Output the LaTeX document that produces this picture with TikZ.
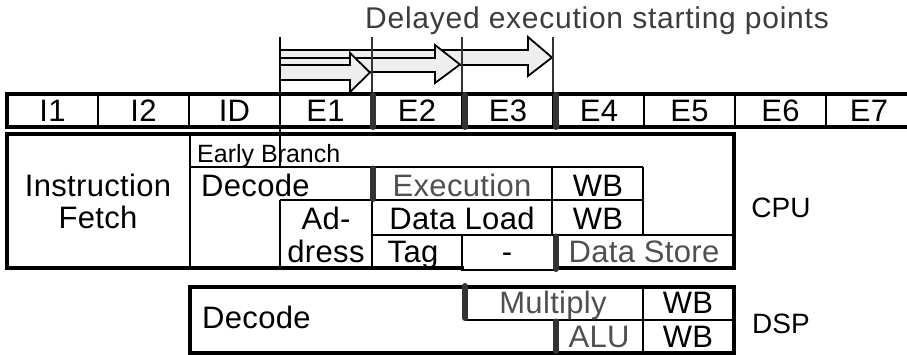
\documentclass[tikz,border=0pt]{standalone}
\usepackage{fontspec}
\setmainfont{Liberation Sans}
\definecolor{barcol}{HTML}{333333}
\definecolor{arrowfill}{HTML}{EEEEEE}
\definecolor{dimtext}{HTML}{505050}
\definecolor{titlecol}{HTML}{3C3C3C}
\begin{document}
\begin{tikzpicture}[x=1pt,y=-1pt,
  thickln/.style={line width=4pt, line cap=rect},
  thinln/.style={line width=2pt},
  stagebar/.style={line width=6pt, draw=barcol, line cap=round},
  guideln/.style={line width=2.8pt, draw=barcol},
  blockarrow/.style={draw=black, fill=arrowfill, line width=1.8pt, line join=miter},
  lbl/.style={font=\fontsize{31}{33}\selectfont\addfontfeatures{LetterSpace=1}, anchor=base, inner sep=0pt},
  small/.style={font=\fontsize{25}{27}\selectfont, anchor=base west, inner sep=0pt},
  side/.style={font=\fontsize{28}{30}\selectfont, anchor=base, inner sep=0pt},
  dim/.style={text=dimtext},
]
\useasboundingbox (0,0) rectangle (907,355);

% title
\node[font=\fontsize{30}{32}\selectfont\addfontfeatures{LetterSpace=2.5}, text=titlecol,
      anchor=base, inner sep=0pt] (title) at (597,29) {Delayed execution starting points};

% block arrows for the delayed starts (longest first)
\draw[blockarrow] (280,50) -- (528,50) -- (528,37) -- (552,57.5) -- (528,76) -- (528,65) -- (280,65) -- cycle;
\draw[blockarrow] (280,58) -- (435,58) -- (435,45) -- (460,64.5) -- (435,83) -- (435,72) -- (280,72) -- cycle;
\draw[blockarrow] (280,65) -- (350,65) -- (350,53) -- (370,72.5) -- (350,92) -- (350,80) -- (280,80) -- cycle;

% guide lines above the stage row
\draw[thinln] (280,37) -- (280,167);
\draw[guideln] (372,37) -- (372,94);
\draw[guideln] (462,37) -- (462,94);
\draw[guideln] (553,37) -- (553,94);

% pipeline stage row
\draw[thickln] (920,94) -- (7,94) -- (7,127) -- (920,127);
\foreach \x in {98,189,280,371,462,553,644,735,826}
  \draw[thinln] (\x,94) -- (\x,127);
\node[lbl] (i1) at (52.5,122) {I1};
\node[lbl] (i2) at (143.5,122) {I2};
\node[lbl] (id) at (234.5,122) {ID};
\node[lbl] (e1) at (325.5,122) {E1};
\node[lbl] (e2) at (417,122) {E2};
\node[lbl] (e3) at (508,122) {E3};
\node[lbl] (e4) at (599,122) {E4};
\node[lbl] (e5) at (689.5,122) {E5};
\node[lbl] (e6) at (780.5,122) {E6};
\node[lbl] (e7) at (869,122) {E7};

% CPU block
\draw[thinln] (190,134) -- (190,268);
\draw[thinln] (190,167) -- (643,167);
\draw[thinln] (280,200) -- (643,200);
\draw[thinln] (372,235) -- (734,235);
\draw[thinln] (280,200) -- (280,268);
\draw[thinln] (372,200) -- (372,268);
\draw[thinln] (462,235) -- (462,270) -- (556,270);
\draw[thinln] (552,167) -- (552,235);
\draw[thinln] (643,167) -- (643,235);
\draw[thickln] (462,268) -- (7,268) -- (7,134) -- (734,134) -- (734,268) -- (556,268);

\node[small] (eb) at (197,163) {Early Branch};
\node[lbl] (if1) at (98,197) {Instruction};
\node[lbl] (if2) at (98,229) {Fetch};
\node[lbl, anchor=base west] (dec) at (201,197) {Decode};
\node[lbl, dim] (exe) at (462,197) {Execution};
\node[lbl] (wb1) at (598,197) {WB};
\node[lbl] (adr1) at (326,230) {Ad-};
\node[lbl] (adr2) at (326,262) {dress};
\node[lbl] (dl) at (462,230) {Data Load};
\node[lbl] (wb2) at (598,230) {WB};
\node[lbl] (tag) at (413,262) {Tag};
\node[lbl] (nop) at (507,262) {-};
\node[lbl, dim] (ds) at (644,263) {Data Store};
\node[side] (cpu) at (781,218) {CPU};

% DSP block
\draw[thinln] (465,320) -- (734,320);
\draw[thinln] (643,287) -- (643,353);
\draw[thickln] (190,287) rectangle (734,353);
\node[lbl, anchor=base west] (ddec) at (202,328) {Decode};
\node[lbl, dim] (mul) at (553,313) {Multiply};
\node[lbl] (wb3) at (688,313) {WB};
\node[lbl, dim] (alu) at (599,347) {ALU};
\node[lbl] (wb4) at (688,347) {WB};
\node[side] (dsp) at (781,333) {DSP};

% stage boundaries where execution may begin
\draw[stagebar] (373,95) -- (373,127);
\draw[stagebar] (465,95) -- (465,127);
\draw[stagebar] (556,95) -- (556,127);
\draw[stagebar] (373,168.5) -- (373,199);
\draw[stagebar] (556,236.5) -- (556,269);
\draw[stagebar] (465,286) -- (465,318);
\draw[stagebar] (556,321.5) -- (556,351);
\end{tikzpicture}
\end{document}
